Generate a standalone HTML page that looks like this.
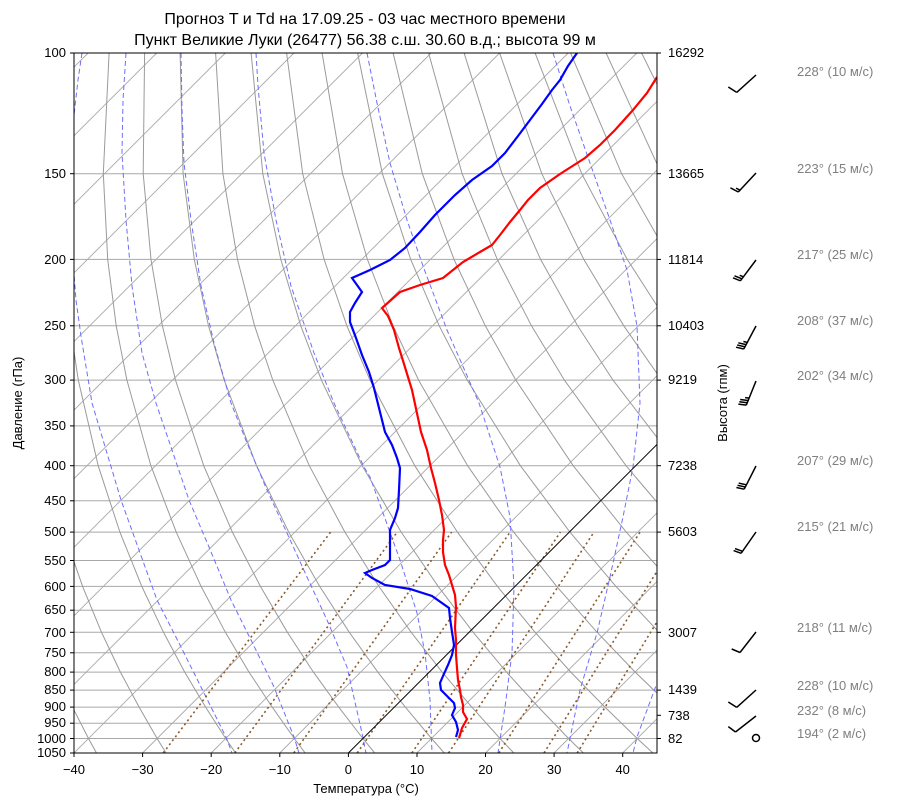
<!DOCTYPE html>
<html><head><meta charset="utf-8"><style>
body{margin:0;background:#fff;}
svg text{font-family:"Liberation Sans","DejaVu Sans",sans-serif;font-size:13px;fill:#000;}
svg text.t{font-size:16px;}
svg text.g{fill:#808080;}
</style></head><body>
<svg width="900" height="806" xmlns="http://www.w3.org/2000/svg">
<defs><clipPath id="c"><rect x="74" y="53" width="583" height="700"/></clipPath></defs>
<g clip-path="url(#c)">
<g stroke="#a8a8a8" stroke-width="1">
<line x1="74" x2="657" y1="173.7" y2="173.7"/><line x1="74" x2="657" y1="259.4" y2="259.4"/><line x1="74" x2="657" y1="325.8" y2="325.8"/><line x1="74" x2="657" y1="380.1" y2="380.1"/><line x1="74" x2="657" y1="425.9" y2="425.9"/><line x1="74" x2="657" y1="465.7" y2="465.7"/><line x1="74" x2="657" y1="500.8" y2="500.8"/><line x1="74" x2="657" y1="532.1" y2="532.1"/><line x1="74" x2="657" y1="560.5" y2="560.5"/><line x1="74" x2="657" y1="586.4" y2="586.4"/><line x1="74" x2="657" y1="610.2" y2="610.2"/><line x1="74" x2="657" y1="632.3" y2="632.3"/><line x1="74" x2="657" y1="652.8" y2="652.8"/><line x1="74" x2="657" y1="672.1" y2="672.1"/><line x1="74" x2="657" y1="690.1" y2="690.1"/><line x1="74" x2="657" y1="707.1" y2="707.1"/><line x1="74" x2="657" y1="723.2" y2="723.2"/><line x1="74" x2="657" y1="738.5" y2="738.5"/>
</g>
<g stroke="#a8a8a8" stroke-width="0.9">
<line x1="-611.9" y1="753" x2="88.1" y2="53"/><line x1="-543.3" y1="753" x2="156.7" y2="53"/><line x1="-474.7" y1="753" x2="225.3" y2="53"/><line x1="-406.1" y1="753" x2="293.9" y2="53"/><line x1="-337.5" y1="753" x2="362.5" y2="53"/><line x1="-268.9" y1="753" x2="431.1" y2="53"/><line x1="-200.4" y1="753" x2="499.6" y2="53"/><line x1="-131.8" y1="753" x2="568.2" y2="53"/><line x1="-63.2" y1="753" x2="636.8" y2="53"/><line x1="5.4" y1="753" x2="705.4" y2="53"/><line x1="74" y1="753" x2="774" y2="53"/><line x1="142.6" y1="753" x2="842.6" y2="53"/><line x1="211.2" y1="753" x2="911.2" y2="53"/><line x1="279.8" y1="753" x2="979.8" y2="53"/><line x1="416.9" y1="753" x2="1116.9" y2="53"/><line x1="485.5" y1="753" x2="1185.5" y2="53"/><line x1="554.1" y1="753" x2="1254.1" y2="53"/><line x1="622.7" y1="753" x2="1322.7" y2="53"/>
</g>
<g fill="none" stroke="#9a9a9a" stroke-width="1">
<polyline points="96.5,753 88.5,738.5 72.5,707.1 56,672.1 39.6,632.3 23.3,586.4 7.4,532.1 -7.4,465.7 -18.9,380.1 -22.2,325.8 -22.2,259.4 -16.3,173.7 2.6,53"/>
<polyline points="166.1,753 157.1,738.5 139.1,707.1 120.4,672.1 101.5,632.3 82.6,586.4 63.7,532.1 45.4,465.7 29.7,380.1 23.9,325.8 21.1,259.4 23.6,173.7 38.1,53"/>
<polyline points="235.6,753 225.7,738.5 205.6,707.1 184.7,672.1 163.5,632.3 141.8,586.4 119.9,532.1 98.2,465.7 78.3,380.1 70.1,325.8 64.4,259.4 63.4,173.7 73.6,53"/>
<polyline points="305.2,753 294.3,738.5 272.2,707.1 249,672.1 225.4,632.3 201.1,586.4 176.2,532.1 150.9,465.7 126.9,380.1 116.2,325.8 107.7,259.4 103.3,173.7 109.1,53"/>
<polyline points="374.7,753 362.9,738.5 338.7,707.1 313.4,672.1 287.4,632.3 260.4,586.4 232.4,532.1 203.7,465.7 175.5,380.1 162.4,325.8 151,259.4 143.2,173.7 144.6,53"/>
<polyline points="444.3,753 431.5,738.5 405.3,707.1 377.8,672.1 349.3,632.3 319.7,586.4 288.7,532.1 256.5,465.7 224.2,380.1 208.5,325.8 194.3,259.4 183.1,173.7 180.1,53"/>
<polyline points="513.8,753 500,738.5 471.8,707.1 442.1,672.1 411.2,632.3 378.9,586.4 344.9,532.1 309.3,465.7 272.8,380.1 254.6,325.8 237.5,259.4 222.9,173.7 215.6,53"/>
<polyline points="583.4,753 568.6,738.5 538.4,707.1 506.5,672.1 473.2,632.3 438.2,586.4 401.2,532.1 362.1,465.7 321.4,380.1 300.8,325.8 280.8,259.4 262.8,173.7 251.1,53"/>
<polyline points="652.9,753 637.2,738.5 604.9,707.1 570.8,672.1 535.1,632.3 497.5,586.4 457.4,532.1 414.8,465.7 370,380.1 346.9,325.8 324.1,259.4 302.7,173.7 286.6,53"/>
<polyline points="722.5,753 705.8,738.5 671.5,707.1 635.2,672.1 597.1,632.3 556.7,586.4 513.7,532.1 467.6,465.7 418.6,380.1 393.1,325.8 367.4,259.4 342.5,173.7 322.1,53"/>
<polyline points="792,753 774.4,738.5 738,707.1 699.5,672.1 659,632.3 616,586.4 569.9,532.1 520.4,465.7 467.2,380.1 439.2,325.8 410.7,259.4 382.4,173.7 357.6,53"/>
<polyline points="861.6,753 843,738.5 804.6,707.1 763.9,672.1 720.9,632.3 675.3,586.4 626.2,532.1 573.2,465.7 515.8,380.1 485.3,325.8 454,259.4 422.3,173.7 393.1,53"/>
<polyline points="734.5,586.4 682.4,532.1 626,465.7 564.4,380.1 531.5,325.8 497.3,259.4 462.1,173.7 428.6,53"/>
<polyline points="738.7,532.1 678.7,465.7 613,380.1 577.6,325.8 540.6,259.4 502,173.7 464.1,53"/>
<polyline points="731.5,465.7 661.6,380.1 623.8,325.8 583.8,259.4 541.8,173.7 499.6,53"/>
<polyline points="710.3,380.1 669.9,325.8 627.2,259.4 581.7,173.7 535.1,53"/>
<polyline points="716,325.8 670.4,259.4 621.6,173.7 570.6,53"/>
<polyline points="713.7,259.4 661.5,173.7 606.1,53"/>
<polyline points="701.4,173.7 641.6,53"/>
</g>
<g fill="none" stroke="#6e6eff" stroke-width="1" stroke-dasharray="5,3">
<polyline points="82,53 78,80 74,115 71,160 71,220 73,262 76,300 81,336 92,403 121,500 139,550 157,600 181,647 204,693 226,737 232,753"/>
<polyline points="126,53 123,100 122,153 126,220 132,286 142,353 156,403 189,500 209,547 231,600 251,640 274,687 294,737 299,753"/>
<polyline points="181,53 182,110 184,163 191,220 201,286 214,343 231,403 247,443 267,490 287,533 307,577 327,620 347,667 362,733 366,753"/>
<polyline points="256,53 258,86 264,153 276,220 291,286 314,353 334,403 364,467 370,477 400,560 417,613 425,653 430,700 432,753"/>
<polyline points="367,53 377,103 390,163 407,220 423,266 447,330 479,403 500,467 510,517 514,587 512,653 505,707 498,753"/>
<polyline points="553,53 570,106 590,163 610,220 627,270 637,326 640,403 633,467 623,517 610,577 597,633 580,690 567,753"/>
<polyline points="672,650 657,683 637,737 633,753"/>
</g>
<g fill="none" stroke="#8b5a2b" stroke-width="1.6" stroke-dasharray="2,3">
<line x1="163.2" y1="753" x2="330.6" y2="532.1"/>
<line x1="234.8" y1="753" x2="397.2" y2="532.1"/>
<line x1="293.8" y1="753" x2="451.6" y2="532.1"/>
<line x1="357.2" y1="753" x2="510.1" y2="532.1"/>
<line x1="411.9" y1="753" x2="560.4" y2="532.1"/>
<line x1="448.6" y1="753" x2="594" y2="532.1"/>
<line x1="498.8" y1="753" x2="640" y2="532.1"/>
<line x1="544" y1="753" x2="681.4" y2="532.1"/>
<line x1="577.2" y1="753" x2="711.5" y2="532.1"/>
</g>
<line x1="348.4" y1="753" x2="1048.4" y2="53" stroke="#000" stroke-width="1"/>
<polyline fill="none" stroke="#ff0000" stroke-width="2.2" points="459,738 462,728 467,719 463,712 463,705 461,697 460,690 458,680 457,668 456,655 456,640 455,628 456,607 455,595 452,585 449,575 445,565 443,552 443,540 444,530 442,515 439,500 435,483 431,468 427,450 421,432 418,418 415,404 412,390 408,377 404,364 399,348 394,330 388,316 382,308 400,292 420,285 443,278 463,262 480,252 492,245 500,235 510,222 520,210 528,200 540,188 560,174 585,158 600,145 615,130 633,110 647,93 657,77"/>
<polyline fill="none" stroke="#0000ff" stroke-width="2.2" points="456,737 458,730 456,722 452,715 455,708 454,703 448,697 441,690 440,683 443,676 448,665 452,655 454,645 452,632 450,618 449,608 432,596 410,589 385,585 372,578 365,573 372,570 385,565 390,560 390,548 390,530 395,518 398,508 399,490 400,468 397,458 392,445 385,432 381,416 377,400 374,388 369,372 362,355 356,338 350,322 350,312 355,303 362,292 352,278 370,270 390,260 405,248 420,232 435,215 455,195 472,180 492,166 505,153 518,136 530,120 542,104 552,90 560,80 568,66 577,53"/>
</g>
<rect x="74" y="53" width="583" height="700" fill="none" stroke="#000" stroke-width="1"/>
<g stroke="#000" stroke-width="1">
<line x1="70" x2="74" y1="53" y2="53"/><line x1="70" x2="74" y1="173.7" y2="173.7"/><line x1="70" x2="74" y1="259.4" y2="259.4"/><line x1="70" x2="74" y1="325.8" y2="325.8"/><line x1="70" x2="74" y1="380.1" y2="380.1"/><line x1="70" x2="74" y1="425.9" y2="425.9"/><line x1="70" x2="74" y1="465.7" y2="465.7"/><line x1="70" x2="74" y1="500.8" y2="500.8"/><line x1="70" x2="74" y1="532.1" y2="532.1"/><line x1="70" x2="74" y1="560.5" y2="560.5"/><line x1="70" x2="74" y1="586.4" y2="586.4"/><line x1="70" x2="74" y1="610.2" y2="610.2"/><line x1="70" x2="74" y1="632.3" y2="632.3"/><line x1="70" x2="74" y1="652.8" y2="652.8"/><line x1="70" x2="74" y1="672.1" y2="672.1"/><line x1="70" x2="74" y1="690.1" y2="690.1"/><line x1="70" x2="74" y1="707.1" y2="707.1"/><line x1="70" x2="74" y1="723.2" y2="723.2"/><line x1="70" x2="74" y1="738.5" y2="738.5"/><line x1="70" x2="74" y1="753" y2="753"/>
<line x1="657" x2="661" y1="53" y2="53"/><line x1="657" x2="661" y1="173.7" y2="173.7"/><line x1="657" x2="661" y1="259.4" y2="259.4"/><line x1="657" x2="661" y1="325.8" y2="325.8"/><line x1="657" x2="661" y1="380.1" y2="380.1"/><line x1="657" x2="661" y1="465.7" y2="465.7"/><line x1="657" x2="661" y1="532.1" y2="532.1"/><line x1="657" x2="661" y1="632.3" y2="632.3"/><line x1="657" x2="661" y1="690.1" y2="690.1"/><line x1="657" x2="661" y1="715.3" y2="715.3"/><line x1="657" x2="661" y1="738.5" y2="738.5"/>
<line x1="74" x2="74" y1="753" y2="757"/><line x1="142.6" x2="142.6" y1="753" y2="757"/><line x1="211.2" x2="211.2" y1="753" y2="757"/><line x1="279.8" x2="279.8" y1="753" y2="757"/><line x1="348.4" x2="348.4" y1="753" y2="757"/><line x1="417" x2="417" y1="753" y2="757"/><line x1="485.5" x2="485.5" y1="753" y2="757"/><line x1="554.1" x2="554.1" y1="753" y2="757"/><line x1="622.7" x2="622.7" y1="753" y2="757"/>
</g>
<g stroke="#000" stroke-width="1.5" fill="none">
<line x1="756" y1="75" x2="736.7" y2="92.4"/><line x1="736.7" y1="92.4" x2="728.3" y2="87"/>
<line x1="756" y1="173" x2="738.3" y2="192"/><line x1="738.3" y1="192" x2="730.4" y2="187.8"/><line x1="740" y1="190.2" x2="736.1" y2="188.1"/>
<line x1="756" y1="260" x2="740.4" y2="280.8"/><line x1="740.4" y1="280.8" x2="733" y2="277.8"/><line x1="741.9" y1="278.8" x2="734.5" y2="275.8"/><line x1="743.4" y1="276.8" x2="739.7" y2="275.3"/>
<line x1="756" y1="326" x2="743.8" y2="349"/><line x1="743.8" y1="349" x2="736" y2="347.2"/><line x1="745" y1="346.8" x2="737.2" y2="345"/><line x1="746.1" y1="344.6" x2="738.3" y2="342.8"/><line x1="747.3" y1="342.4" x2="743.4" y2="341.5"/>
<line x1="756" y1="381" x2="746.3" y2="405.1"/><line x1="746.3" y1="405.1" x2="738.4" y2="404.1"/><line x1="747.2" y1="402.8" x2="739.3" y2="401.8"/><line x1="748.1" y1="400.5" x2="740.2" y2="399.5"/><line x1="749.1" y1="398.1" x2="745.1" y2="397.6"/>
<line x1="756" y1="466" x2="744.2" y2="489.2"/><line x1="744.2" y1="489.2" x2="736.4" y2="487.5"/><line x1="745.3" y1="487" x2="737.5" y2="485.3"/><line x1="746.5" y1="484.8" x2="738.7" y2="483.1"/>
<line x1="756" y1="532" x2="741.1" y2="553.3"/><line x1="741.1" y1="553.3" x2="733.6" y2="550.6"/><line x1="742.5" y1="551.3" x2="735" y2="548.6"/>
<line x1="756" y1="632" x2="740" y2="652.5"/><line x1="740" y1="652.5" x2="731.7" y2="649"/>
<line x1="756" y1="690" x2="736.7" y2="707.4"/><line x1="736.7" y1="707.4" x2="728.3" y2="702"/>
<line x1="756" y1="716" x2="735.5" y2="732"/><line x1="735.5" y1="732" x2="728.3" y2="726.6"/>
<circle cx="756" cy="738" r="3.5"/>
</g>
<text class="t" x="365" y="24" text-anchor="middle">Прогноз T и Td на 17.09.25 - 03 час местного времени</text>
<text class="t" x="365" y="45" text-anchor="middle">Пункт Великие Луки (26477) 56.38 с.ш. 30.60 в.д.; высота 99 м</text>
<g text-anchor="end">
<text x="66" y="57">100</text><text x="66" y="178">150</text><text x="66" y="264">200</text><text x="66" y="330">250</text><text x="66" y="384">300</text><text x="66" y="430">350</text><text x="66" y="470">400</text><text x="66" y="505">450</text><text x="66" y="536">500</text><text x="66" y="565">550</text><text x="66" y="591">600</text><text x="66" y="614">650</text><text x="66" y="637">700</text><text x="66" y="657">750</text><text x="66" y="676">800</text><text x="66" y="694">850</text><text x="66" y="711">900</text><text x="66" y="727">950</text><text x="66" y="743">1000</text><text x="66" y="757">1050</text>
</g>
<g text-anchor="middle">
<text x="74" y="774">−40</text><text x="142.6" y="774">−30</text><text x="211.2" y="774">−20</text><text x="279.8" y="774">−10</text><text x="348.4" y="774">0</text><text x="417" y="774">10</text><text x="485.5" y="774">20</text><text x="554.1" y="774">30</text><text x="622.7" y="774">40</text>
<text x="366" y="793">Температура (°C)</text>
</g>
<text x="22" y="403" text-anchor="middle" transform="rotate(-90 22 403)">Давление (гПа)</text>
<text x="727" y="403" text-anchor="middle" transform="rotate(-90 727 403)">Высота (гпм)</text>
<g>
<text x="668" y="57">16292</text><text x="668" y="178">13665</text><text x="668" y="264">11814</text><text x="668" y="330">10403</text><text x="668" y="384">9219</text><text x="668" y="470">7238</text><text x="668" y="536">5603</text><text x="668" y="637">3007</text><text x="668" y="694">1439</text><text x="668" y="720">738</text><text x="668" y="743">82</text>
</g>
<text class="g" x="797" y="76">228° (10 м/с)</text>
<text class="g" x="797" y="173">223° (15 м/с)</text>
<text class="g" x="797" y="259">217° (25 м/с)</text>
<text class="g" x="797" y="325">208° (37 м/с)</text>
<text class="g" x="797" y="380">202° (34 м/с)</text>
<text class="g" x="797" y="465">207° (29 м/с)</text>
<text class="g" x="797" y="531">215° (21 м/с)</text>
<text class="g" x="797" y="632">218° (11 м/с)</text>
<text class="g" x="797" y="690">228° (10 м/с)</text>
<text class="g" x="797" y="715">232° (8 м/с)</text>
<text class="g" x="797" y="738">194° (2 м/с)</text>
</svg>
</body></html>
